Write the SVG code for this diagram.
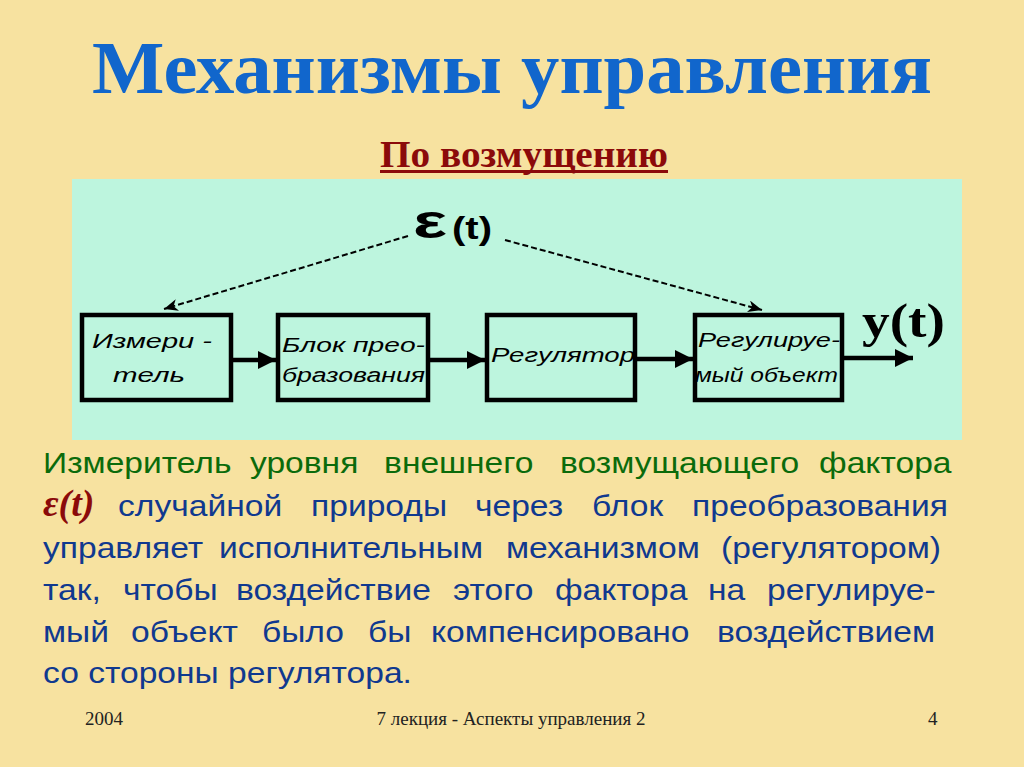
<svg xmlns="http://www.w3.org/2000/svg" width="1024" height="767" viewBox="0 0 1024 767">
<style>
.title{font-family:"Liberation Serif",serif;font-weight:bold;font-size:75px;fill:#1166CC}
.sub{font-family:"Liberation Serif",serif;font-weight:bold;font-size:38px;fill:#8B0A0A}
.box{fill:none;stroke:#000;stroke-width:4.5}
.bt{font-family:"Liberation Sans",sans-serif;font-style:italic;font-size:20px;fill:#000}
.flow{stroke:#000;stroke-width:4.5;fill:none}
.dash{stroke:#000;stroke-width:2;stroke-dasharray:6 3;fill:none}
.g{font-family:"Liberation Sans",sans-serif;font-size:30px;fill:#0B6B0B}
.b{font-family:"Liberation Sans",sans-serif;font-size:30px;fill:#10398F}
.foot{font-family:"Liberation Serif",serif;font-size:19px;fill:#222}
</style>
<defs>
<marker id="ah" markerWidth="4" markerHeight="4" refX="4" refY="2" orient="auto" markerUnits="strokeWidth"><path d="M0,0 L4,2 L0,4 Z" fill="#000"/></marker>
<marker id="dh" markerWidth="7" markerHeight="6" refX="7" refY="3" orient="auto" markerUnits="strokeWidth"><path d="M0,0 L7,3 L0,6 L2,3 Z" fill="#000"/></marker>
</defs>
<rect x="0" y="0" width="1024" height="767" fill="#F7E2A0"/>
<g id="title"><text class="title" x="512" y="93" text-anchor="middle" textLength="840" lengthAdjust="spacingAndGlyphs">Механизмы управления</text></g>
<g id="subtitle"><text class="sub" x="524" y="167" text-anchor="middle" textLength="288" lengthAdjust="spacingAndGlyphs">По возмущению</text>
<rect x="380" y="170" width="288" height="3" fill="#8B0A0A"/></g>
<rect id="panel" x="72" y="179" width="890" height="261" fill="#BDF5DE"/>
<g id="connectors">
<line class="dash" x1="408" y1="236" x2="164" y2="309" marker-end="url(#dh)"/>
<line class="dash" x1="505" y1="240" x2="762" y2="310" marker-end="url(#dh)"/>
<line class="flow" x1="233" y1="360" x2="276" y2="360" marker-end="url(#ah)"/>
<line class="flow" x1="430" y1="360" x2="485" y2="360" marker-end="url(#ah)"/>
<line class="flow" x1="637" y1="359" x2="693" y2="359" marker-end="url(#ah)"/>
<line class="flow" x1="844" y1="358" x2="913" y2="358" marker-end="url(#ah)"/>
</g>
<g id="eps">
<text font-family="Liberation Sans,sans-serif" font-weight="bold" fill="#000" font-size="48" x="413" y="238" textLength="34" lengthAdjust="spacingAndGlyphs">ε</text>
<text font-family="Liberation Sans,sans-serif" font-weight="bold" fill="#000" font-size="32" x="452" y="239" textLength="40" lengthAdjust="spacingAndGlyphs">(t)</text>
</g>
<g id="yt"><text font-family="Liberation Serif,serif" font-weight="bold" font-size="48" fill="#000" x="862" y="337" textLength="83" lengthAdjust="spacingAndGlyphs">y(t)</text></g>
<g id="n1"><rect class="box" x="82" y="315" width="149" height="85"/>
<text class="bt" x="92" y="348" textLength="120" lengthAdjust="spacingAndGlyphs">Измери -</text>
<text class="bt" x="113" y="382" textLength="72" lengthAdjust="spacingAndGlyphs">тель</text></g>
<g id="n2"><rect class="box" x="278" y="315" width="150" height="85"/>
<text class="bt" x="282" y="352" textLength="143" lengthAdjust="spacingAndGlyphs">Блок прео-</text>
<text class="bt" x="282" y="382" textLength="143" lengthAdjust="spacingAndGlyphs">бразования</text></g>
<g id="n3"><rect class="box" x="487" y="315" width="148" height="85"/>
<text class="bt" x="491" y="362" textLength="144" lengthAdjust="spacingAndGlyphs">Регулятор</text></g>
<g id="n4"><rect class="box" x="695" y="315" width="147" height="85"/>
<text class="bt" x="698" y="347" textLength="142" lengthAdjust="spacingAndGlyphs">Регулируе-</text>
<text class="bt" x="695" y="382" textLength="143" lengthAdjust="spacingAndGlyphs">мый объект</text></g>
<g id="body">
<text font-family="Liberation Serif,serif" font-style="italic" font-weight="bold" font-size="38" fill="#8B0A0A" x="43" y="516">ε(t)</text>
<g transform="scale(1.12,1)">
<text class="g" y="473"><tspan x="38.4">Измеритель</tspan><tspan x="223.2">уровня</tspan><tspan x="342.9">внешнего</tspan><tspan x="500">возмущающего</tspan><tspan x="731.3">фактора</tspan></text>
<text class="b" y="516"><tspan x="105.4">случайной</tspan><tspan x="277.7">природы</tspan><tspan x="424.1">через</tspan><tspan x="528.6">блок</tspan><tspan x="617.9">преобразования</tspan></text>
<text class="b" y="558"><tspan x="38.4">управляет</tspan><tspan x="195.5">исполнительным</tspan><tspan x="451.8">механизмом</tspan><tspan x="643.8">(регулятором)</tspan></text>
<text class="b" y="600"><tspan x="38.4">так,</tspan><tspan x="109.8">чтобы</tspan><tspan x="210.7">воздействие</tspan><tspan x="404.5">этого</tspan><tspan x="495.5">фактора</tspan><tspan x="632.1">на</tspan><tspan x="684.8">регулируе-</tspan></text>
<text class="b" y="642"><tspan x="38.4">мый</tspan><tspan x="117">объект</tspan><tspan x="233.9">было</tspan><tspan x="328.6">бы</tspan><tspan x="384.8">компенсировано</tspan><tspan x="640.2">воздействием</tspan></text>
<text class="b" y="683"><tspan x="38.4">со стороны регулятора.</tspan></text>
</g>
</g>
<g id="footer">
<text class="foot" x="85" y="725">2004</text>
<text class="foot" x="511" y="725" text-anchor="middle">7 лекция - Аспекты управления 2</text>
<text class="foot" x="928" y="725">4</text>
</g>
</svg>
